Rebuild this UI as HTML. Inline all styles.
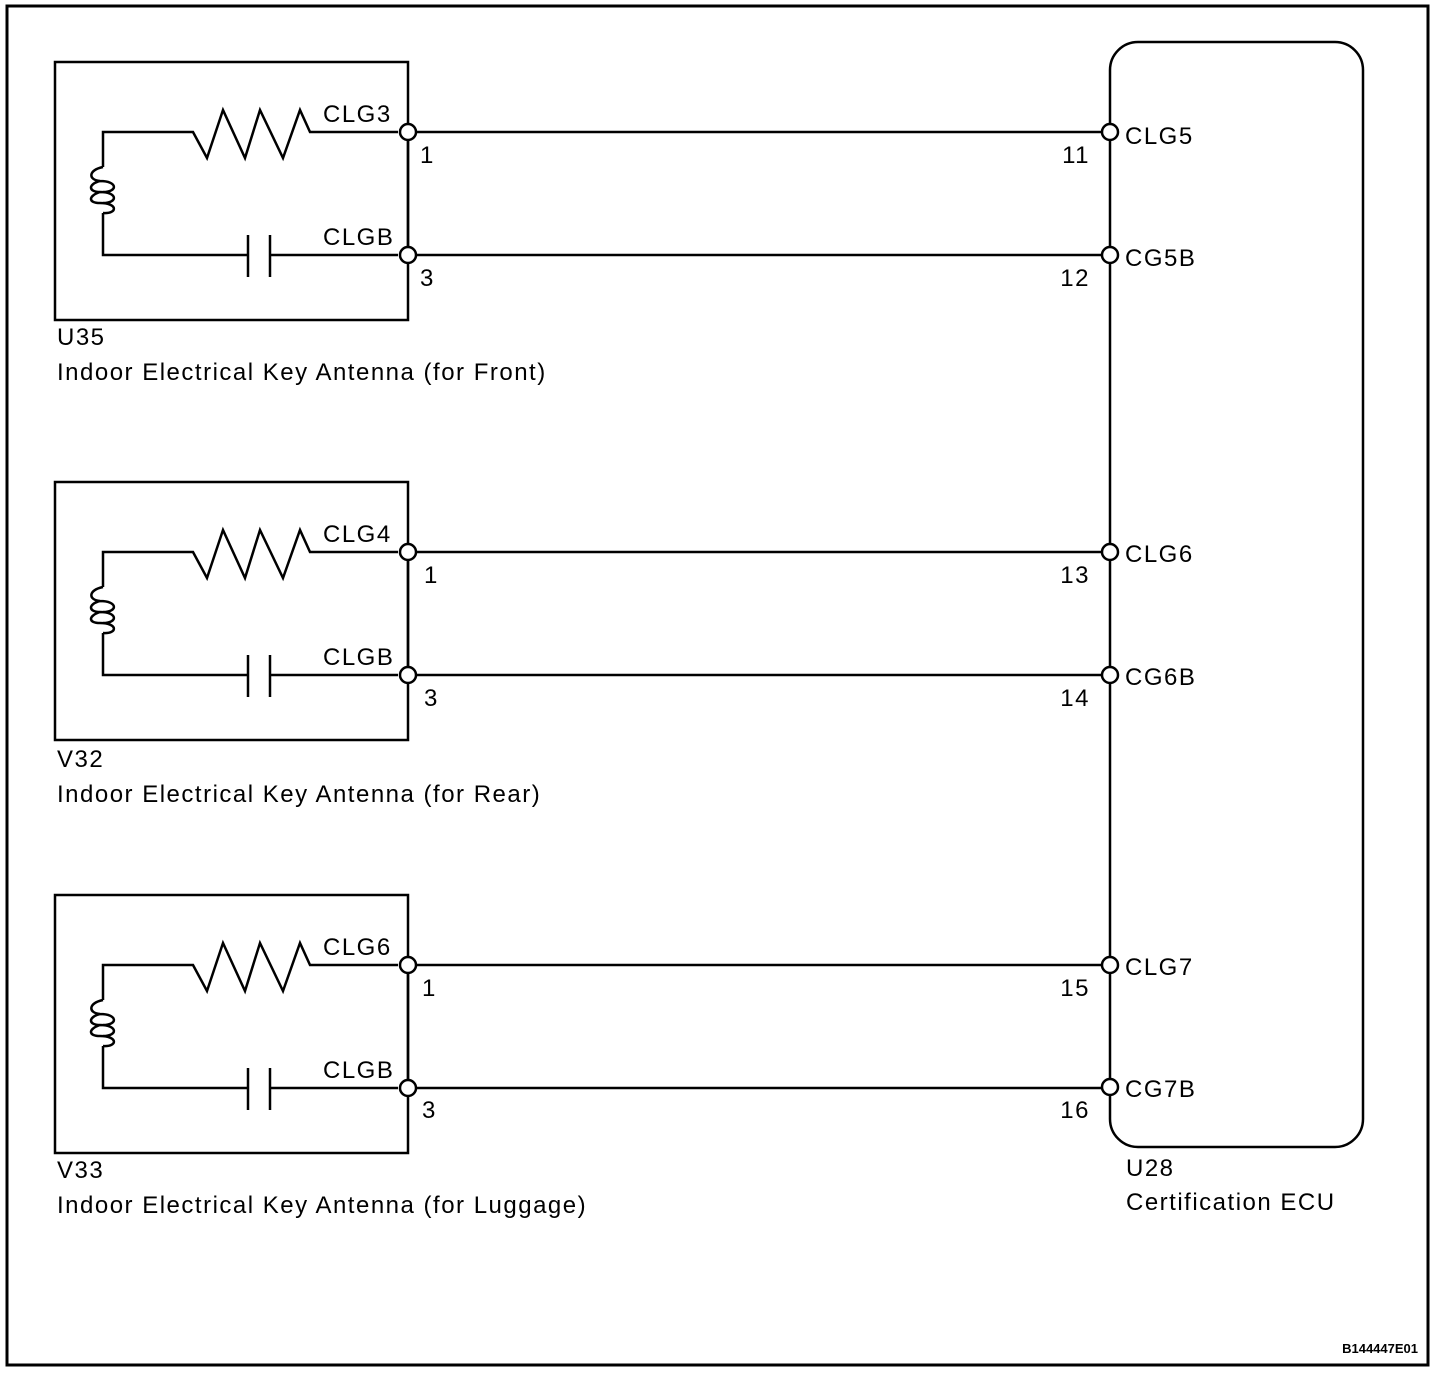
<!DOCTYPE html>
<html><head><meta charset="utf-8"><style>
html,body{margin:0;padding:0;background:#fff;}
svg{display:block;}
text{font-family:"Liberation Sans",Arial,sans-serif;font-size:24px;fill:#000;letter-spacing:1.5px;}
</style></head><body>
<svg width="1456" height="1374" viewBox="0 0 1456 1374" xmlns="http://www.w3.org/2000/svg">
<rect x="7" y="6" width="1421" height="1359" fill="none" stroke="#000" stroke-width="3"/>
<defs>
<g id="ant" fill="none" stroke="#000" stroke-width="2.5">
  <rect x="55" y="62" width="353" height="258"/>
  <polyline points="398,132 310,132 300,110 283,158 260,110 245,158 223,110 207,158 193,132 103,132 103,167"/>
  <path d="M103,167 C88,170 88,180 100,181 C118,181 118,192 103,192 M100,181 C88,184 88,192 100,192 C118,192 118,203 103,203 M100,192 C88,196 88,203 100,203 C118,203 118,214 103,213"/>
  <polyline points="103,213 103,255 248,255"/>
  <line x1="248" y1="235" x2="248" y2="277"/>
  <line x1="270" y1="235" x2="270" y2="277"/>
  <line x1="270" y1="255" x2="398" y2="255"/>
  <line x1="408" y1="139" x2="408" y2="248"/>
  <line x1="415" y1="132" x2="1103" y2="132"/>
  <line x1="415" y1="255" x2="1103" y2="255"/>
  <circle cx="408" cy="132" r="8" fill="#fff"/>
  <circle cx="408" cy="255" r="8" fill="#fff"/>
</g>
</defs>
<use href="#ant"/>
<use href="#ant" transform="translate(0,420)"/>
<use href="#ant" transform="translate(0,833)"/>
<rect x="1110" y="42" width="253" height="1105" rx="28" ry="28" fill="none" stroke="#000" stroke-width="2.5"/>
<g fill="#fff" stroke="#000" stroke-width="2.5">
<circle cx="1110" cy="132" r="8"/><circle cx="1110" cy="255" r="8"/>
<circle cx="1110" cy="552" r="8"/><circle cx="1110" cy="675" r="8"/>
<circle cx="1110" cy="965" r="8"/><circle cx="1110" cy="1087" r="8"/>
</g>
<text x="323" y="122">CLG3</text><text x="323" y="245">CLGB</text>
<text x="420" y="163">1</text><text x="420" y="286">3</text>
<text x="57" y="345">U35</text>
<text x="57" y="380">Indoor Electrical Key Antenna (for Front)</text>
<text x="323" y="542">CLG4</text><text x="323" y="665">CLGB</text>
<text x="424" y="583">1</text><text x="424" y="706">3</text>
<text x="57" y="767">V32</text>
<text x="57" y="802">Indoor Electrical Key Antenna (for Rear)</text>
<text x="323" y="955">CLG6</text><text x="323" y="1078">CLGB</text>
<text x="422" y="996">1</text><text x="422" y="1118">3</text>
<text x="57" y="1178">V33</text>
<text x="57" y="1213">Indoor Electrical Key Antenna (for Luggage)</text>
<g text-anchor="end">
<text x="1090" y="163">11</text><text x="1090" y="286">12</text>
<text x="1090" y="583">13</text><text x="1090" y="706">14</text>
<text x="1090" y="996">15</text><text x="1090" y="1118">16</text>
</g>
<text x="1125" y="144">CLG5</text><text x="1125" y="266">CG5B</text>
<text x="1125" y="562">CLG6</text><text x="1125" y="685">CG6B</text>
<text x="1125" y="975">CLG7</text><text x="1125" y="1097">CG7B</text>
<text x="1126" y="1176">U28</text>
<text x="1126" y="1210">Certification ECU</text>
<text x="1418" y="1353" text-anchor="end" style="font-size:13px;font-weight:bold;letter-spacing:0">B144447E01</text>
</svg>
</body></html>
